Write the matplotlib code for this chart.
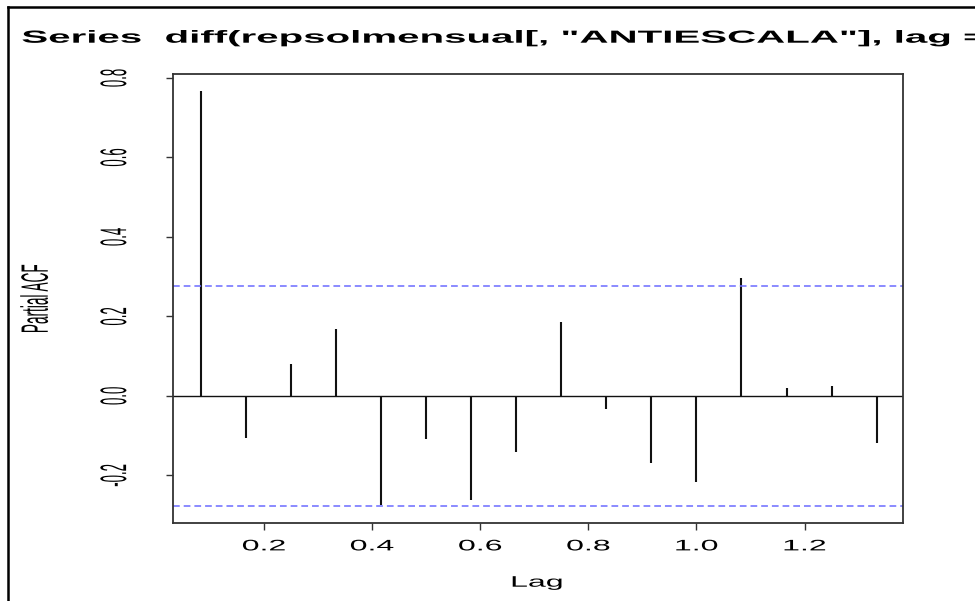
import numpy as np
import matplotlib
matplotlib.use("Agg")
import matplotlib.pyplot as plt
from matplotlib.lines import Line2D
from matplotlib.patheffects import AbstractPathEffect
from matplotlib.transforms import Affine2D

# partial autocorrelations (monthly series, lag in years)
lag_months = [1, 2, 3, 4, 5, 6, 7, 8, 9, 10, 11, 12, 13, 14, 15, 16]
pacf_vals = [0.767, -0.106, 0.079, 0.169, -0.275, -0.108, -0.263, -0.141,
             0.187, -0.032, -0.170, -0.217, 0.297, 0.019, 0.024, -0.118]
n_obs = 50
x_ticks = [0.2, 0.4, 0.6, 0.8, 1.0, 1.2]
x_labels = ["0.2", "0.4", "0.6", "0.8", "1.0", "1.2"]
y_ticks = [-0.2, 0.0, 0.2, 0.4, 0.6, 0.8]
y_labels = ["-0.2", "0.0", "0.2", "0.4", "0.6", "0.8"]
title = 'Series  diff(repsolmensual[, "ANTIESCALA"], lag = 12)'


class Stretch(AbstractPathEffect):
    # the source picture is stretched sideways, so widen the glyphs the same way
    def __init__(self, sx, anchor="center"):
        super().__init__()
        self.sx = sx
        self.anchor = anchor

    def draw_path(self, renderer, gc, tpath, affine, rgbFace=None):
        box = tpath.get_extents(affine)
        x0 = box.x0 if self.anchor == "left" else (box.x0 + box.x1) / 2
        affine = affine + Affine2D().translate(-x0, 0).scale(self.sx, 1).translate(x0, 0)
        renderer.draw_path(gc, tpath, affine, rgbFace)


plt.rcParams["font.family"] = ["Liberation Sans", "DejaVu Sans"]

lags = np.array(lag_months) / 12.0
clim = 1.96 / np.sqrt(n_obs)

fig = plt.figure(figsize=(9.75, 6.01), dpi=100)
ax = fig.add_axes([173 / 975, 1 - 523 / 601, 730 / 975, 449 / 601])

ax.vlines(lags, 0, pacf_vals, color="#111111", lw=1.5)
ax.axhline(0, color="#111111", lw=1.0)
for c in (clim, -clim):
    ax.axhline(c, color="#6b6bff", lw=1.1, linestyle=(0, (4.4, 2.6)))

ax.set_xlim(0.032, 1.382)
ax.set_ylim(-0.320, 0.810)

for sp in ax.spines.values():
    sp.set_color("#333333")
    sp.set_linewidth(1.3)

ax.set_xticks(x_ticks, x_labels, fontsize=11)
ax.set_yticks(y_ticks, y_labels, fontsize=9.5, rotation=90, va="center")
ax.tick_params(axis="x", length=5, width=1, color="#333333", pad=6.8)
ax.tick_params(axis="y", length=5, width=1, color="#333333", pad=32.5)
for lab in ax.get_xticklabels():
    lab.set_path_effects([Stretch(2.1)])
for lab in ax.get_yticklabels():
    lab.set_path_effects([Stretch(2.8)])

fig.text(537 / 975, 1 - 586.7 / 601, "Lag", fontsize=11, ha="center", va="baseline",
         path_effects=[Stretch(2.1)])
fig.text(35 / 975, 1 - 298.5 / 601, "Partial ACF", fontsize=9.8, rotation=90,
         ha="center", va="center", path_effects=[Stretch(2.8)])
fig.text(22 / 975, 1 - 42.7 / 601, title, fontsize=12.6, fontweight="bold",
         ha="left", va="baseline", path_effects=[Stretch(2.3, "left")])

# outer frame of the screenshot (left and top edges)
fig.add_artist(Line2D([8 / 975, 8 / 975], [0, 1 - 7 / 601], transform=fig.transFigure,
                      color="black", lw=1.8))
fig.add_artist(Line2D([8 / 975, 1], [1 - 7 / 601, 1 - 7 / 601], transform=fig.transFigure,
                      color="black", lw=1.8))

fig.savefig("out.png", dpi=100)
